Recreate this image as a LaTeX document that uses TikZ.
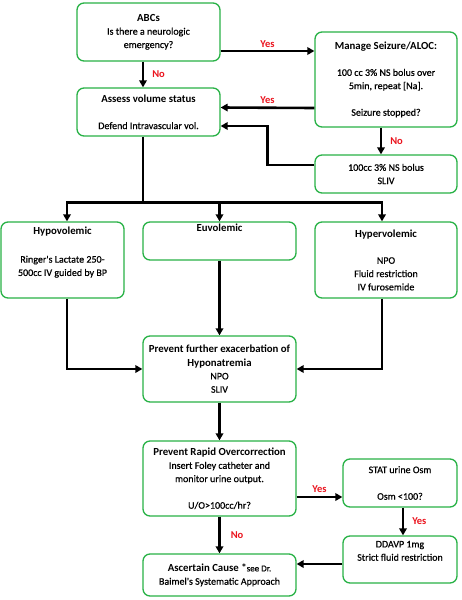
\documentclass[tikz,border=0pt]{standalone}
\usepackage{fontspec}
\setmainfont{Carlito}
\newfontfamily\bodyfont{Carlito}[FakeBold=0.6]
\usetikzlibrary{arrows.meta,calc}
\definecolor{boxgreen}{RGB}{40,178,70}
\definecolor{lblred}{RGB}{235,20,30}
\newcommand\ttl[1]{{\fontsize{10.8}{13.3}\selectfont\normalfont\bfseries #1}}
\begin{document}
\begin{tikzpicture}[x=1pt,y=-1pt,
  box/.style={draw=boxgreen, line width=1.3pt, rounded corners=7pt, fill=white,
    inner sep=0pt, align=center, font={\bodyfont\fontsize{10}{13.3}\selectfont}},
  conn/.style={line width=2.6pt, black},
  arr/.style={conn, -{Triangle[length=7pt,width=7.5pt]}},
  lbl/.style={text=lblred, font={\fontsize{10.5}{12}\selectfont\bfseries}, inner sep=2pt}
]
\useasboundingbox (0,0) rectangle (461,600);
\fill[white] (0,0) rectangle (461,600);

\node[box, minimum width=143pt, minimum height=58pt] (abc) at (148.5,32)
  {\ttl{ABCs}\\Is there a neurologic\\emergency?};
\node[box, minimum width=142pt, minimum height=95pt] (manage) at (386,79.5)
  {\ttl{Manage Seizure/ALOC:}\\[13.3pt]100 cc 3\% NS bolus over\\5min, repeat [Na].\\[13.3pt]Seizure stopped?};
\node[box, minimum width=143pt, minimum height=48pt] (assess) at (148.5,112)
  {\ttl{Assess volume status}\\[13.3pt]Defend Intravascular vol.};
\node[box, minimum width=142pt, minimum height=38pt] (sliv) at (386,174)
  {100cc 3\% NS bolus\\SLIV};
\node[box, minimum width=123pt, minimum height=76pt] (hypo) at (62.5,260)
  {\ttl{Hypovolemic}\\[15pt]Ringer's Lactate 250-\\500cc IV guided by BP\\[4pt]};
\node[box, minimum width=153pt, minimum height=38pt] (euvo) at (219.5,241)
  {\ttl{Euvolemic}\\[13.3pt]};
\node[box, minimum width=142pt, minimum height=76pt] (hyper) at (386,260)
  {\ttl{Hypervolemic}\\[13.3pt]NPO\\Fluid restriction\\IV furosemide};
\node[box, minimum width=153pt, minimum height=66pt] (prev) at (219.5,369)
  {\ttl{Prevent further exacerbation of}\\\ttl{Hyponatremia}\\NPO\\SLIV};
\node[box, minimum width=153pt, minimum height=75pt] (rapid) at (219.5,478.5)
  {\ttl{Prevent Rapid Overcorrection}\\Insert Foley catheter and\\monitor urine output.\\[13.3pt]U/O>100cc/hr?};
\node[box, minimum width=114pt, minimum height=48pt] (stat) at (400,483)
  {STAT urine Osm\\[13.3pt]Osm <100?};
\node[box, minimum width=114pt, minimum height=47pt] (ddavp) at (400,559.5)
  {DDAVP 1mg\\Strict fluid restriction\\[4pt]};
\node[box, minimum width=153pt, minimum height=42pt] (asc) at (219.5,575)
  {\ttl{Ascertain Cause *}{\fontsize{9}{13.3}\selectfont see Dr.}\\Baimel's Systematic Approach};

% connectors
\draw[arr] ([yshift=-19pt]abc.east) -- node[lbl, above] {Yes} ([yshift=-19pt]abc.east -| manage.west);
\draw[arr] ([xshift=-5.5pt]abc.south) -- node[lbl, right, xshift=6pt] {No} ([xshift=-5.5pt]assess.north);
\draw[arr] ([yshift=-28.5pt]manage.west) -- node[lbl, above, yshift=1pt] {Yes} ([yshift=4.5pt]assess.east);
\draw[arr] ([xshift=-5pt]manage.south) -- node[lbl, right, xshift=6pt] {No} ([xshift=-5pt]sliv.north);
\draw[arr] ([yshift=9pt]sliv.west) -- ++(-47pt,0pt) |- ([yshift=-14pt]assess.east);

\coordinate (bar) at ($([xshift=-5.5pt]assess.south)+(0pt,-66pt)$);
\draw[conn] ([xshift=-5.5pt]assess.south) -- (bar);
\draw[arr] (bar) -| ([xshift=4.5pt]hypo.north);
\draw[arr] (bar) -| (euvo.north);
\draw[arr] (bar) -| ([xshift=-4pt]hyper.north);

\draw[arr] ([xshift=4.5pt]hypo.south) |- (prev.west);
\draw[arr] ([xshift=-4pt]hyper.south) |- (prev.east);
\draw[arr] (euvo.south) -- (prev.north);
\draw[arr] (prev.south) -- (rapid.north);

\draw[arr] ([yshift=-18.5pt]rapid.east) -- node[lbl, above, yshift=1pt] {Yes} ([yshift=-14pt]stat.west);
\draw[arr] ([xshift=3pt]stat.south) -- node[lbl, right, xshift=6pt] {Yes} ([xshift=3pt]ddavp.north);
\draw[arr] ([yshift=-4.5pt]ddavp.west) -- ([yshift=11pt]asc.east);
\draw[arr] (rapid.south) -- node[lbl, right, xshift=8pt] {No} (asc.north);
\end{tikzpicture}
\end{document}
